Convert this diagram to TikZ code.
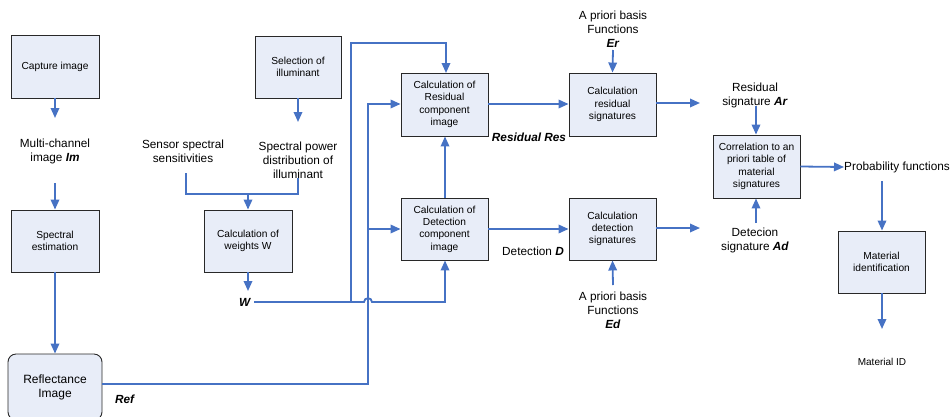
\documentclass[tikz,border=0pt]{standalone}
\usepackage{fontspec}
\setmainfont{Liberation Sans}
\usetikzlibrary{arrows.meta}
\definecolor{boxfill}{RGB}{232,237,248}
\definecolor{arrblue}{RGB}{70,114,196}
\definecolor{boxline}{RGB}{40,40,40}
\tikzset{
  box/.style={draw=boxline, fill=boxfill, line width=0.9pt, align=center,
    font=\fontsize{10.2}{12.3}\selectfont, inner sep=1pt},
  lbl/.style={align=center, font=\fontsize{11.8}{14}\selectfont, inner sep=0pt},
  arr/.style={draw=arrblue, line width=1.8pt, -{Triangle[width=8.5pt,length=10pt]}},
  ln/.style={draw=arrblue, line width=1.8pt}
}
\begin{document}
\begin{tikzpicture}[x=1pt,y=-1pt]
\useasboundingbox (0,0) rectangle (952,416);
% boxes
\node[box, minimum width=88pt, minimum height=63pt] (cap) at (55,66.5) {Capture image};
\node[box, minimum width=86pt, minimum height=62pt] (sel) at (298,67) {Selection of\\illuminant};
\node[box, minimum width=88pt, minimum height=62pt] (spec) at (55,241) {Spectral\\estimation};
\node[box, rounded corners=8pt, minimum width=94pt, minimum height=66pt, font=\fontsize{12}{14}\selectfont] (refl) at (55,387) {Reflectance\\Image};
\node[box, minimum width=88pt, minimum height=62pt] (wts) at (248,241) {Calculation of\\weights W};
\node[box, minimum width=87pt, minimum height=63pt] (res) at (444.5,104.5) {Calculation of\\Residual\\component\\image};
\node[box, minimum width=87pt, minimum height=62pt] (det) at (444.5,229) {Calculation of\\Detection\\component\\image};
\node[box, minimum width=87pt, minimum height=63pt] (rsig) at (612.5,104.5) {Calculation\\residual\\signatures};
\node[box, minimum width=87pt, minimum height=62pt] (dsig) at (612.5,229) {Calculation\\detection\\signatures};
\node[box, minimum width=87pt, minimum height=63pt] (corr) at (756.5,166.5) {Correlation to an\\priori table of\\material\\signatures};
\node[box, minimum width=87pt, minimum height=62pt] (mat) at (881.5,262) {Material\\identification};
% labels
\node[lbl] (im) at (55,151) {Multi-channel\\image \textbf{\textit{Im}}};
\node[lbl] (sens) at (183,151) {Sensor spectral\\sensitivities};
\node[lbl] (spd) at (298,160) {Spectral power\\distribution of\\illuminant};
\node[lbl] (wlab) at (245,302) {\textbf{\textit{W}}};
\node[lbl] (reflab) at (125,399) {\textbf{\textit{Ref}}};
\node[lbl] (reslab) at (529,137) {\textbf{\textit{Residual Res}}};
\node[lbl] (detlab) at (533,251) {Detection \textbf{\textit{D}}};
\node[lbl] (er) at (613,29) {A priori basis\\Functions\\\textbf{\textit{Er}}};
\node[lbl] (ed) at (613,310) {A priori basis\\Functions\\\textbf{\textit{Ed}}};
\node[lbl] (ar) at (755,95) {Residual\\signature \textbf{\textit{Ar}}};
\node[lbl] (ad) at (755,240.5) {Detecion\\signature \textbf{\textit{Ad}}};
\node[lbl, anchor=west] (prob) at (844,167) {Probability functions};
\node[lbl, font=\fontsize{10}{12}\selectfont] (matid) at (882,362) {Material ID};
% coordinates
\coordinate (sensb) at (186,173);
\coordinate (spdb) at (298,178);
\coordinate (wend) at (254,302);
% arrows left column
\draw[arr] (cap.south) -- (55,118);
\draw[arr] (55,183) -- (spec.north);
\draw[arr] (spec.south) -- (refl.north);
\draw[arr] (sel.south) -- (298,122);
\draw[ln] (sensb) -- (186,194) -- (298,194) -- (spdb);
\draw[arr] (248,194) -- (wts.north);
\draw[arr] (wts.south) -- (248,291);
% W line with hop
\draw[arr] (wend) -- (364,302) .. controls (364,297) and (372,297) .. (372,302) -- (445,302) -- (det.south -| 445,0);
\draw[arr] (351,302) -- (351,43) -- (446,43) -- (446,73);
% Ref line
\draw[arr] (refl.east |- 0,384) -- (368,384) -- (368,104) -- (res.west |- 0,104);
\draw[arr] (368,229) -- (det.west);
% middle
\draw[arr] (det.north -| 445,0) -- (res.south -| 445,0);
\draw[arr] (res.east |- 0,104) -- (rsig.west |- 0,104);
\draw[arr] (det.east) -- (dsig.west);
\draw[arr] (613,50) -- (rsig.north);
\draw[arr] (613,285) -- (dsig.south);
% right
\draw[arr] (rsig.east |- 0,103) -- (700,103);
\draw[arr] (dsig.east |- 0,228) -- (700,228);
\draw[arr] (756,106) -- (corr.north -| 756,0);
\draw[arr] (756,223) -- (corr.south -| 756,0);
\draw[arr] (corr.east) -- (prob.west);
\draw[arr] (882,181) -- (mat.north -| 882,0);
\draw[arr] (mat.south -| 882,0) -- (882,329);
\end{tikzpicture}
\end{document}
